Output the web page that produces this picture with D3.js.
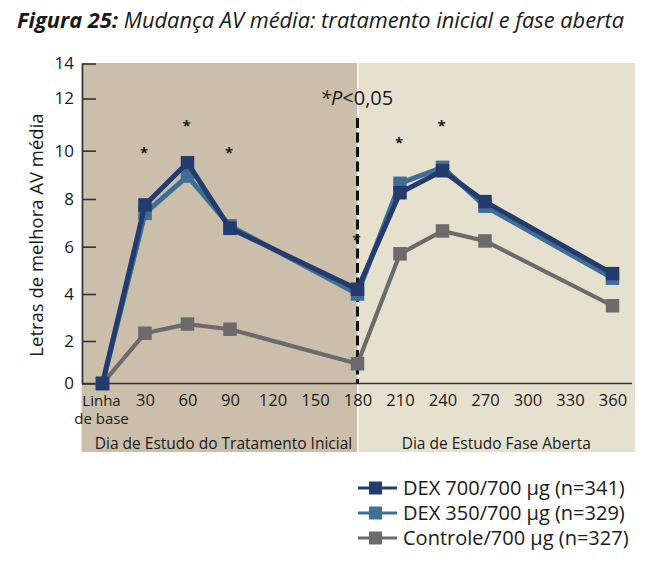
<!DOCTYPE html>
<html>
<head>
<meta charset="utf-8">
<script src="https://cdn.jsdelivr.net/npm/d3@7"></script>
<style>
  html, body { margin: 0; padding: 0; background: #ffffff; }
  svg { display: block; }
  text { font-family: "Open Sans", "Liberation Sans", sans-serif; fill: #1a1a1a; }
</style>
</head>
<body>
<svg id="chart" width="666" height="570"></svg>
<script>
// ---------- data ----------
const days = [0, 30, 60, 90, 180, 210, 240, 270, 360];
const dex700 = [0, 7.75, 9.5, 6.77, 4.2, 8.26, 9.17, 7.89, 4.86];
const dex350 = [0, 7.4, 8.95, 6.87, 4.0, 8.65, 9.31, 7.7, 4.67];
const controle = [0, 2.33, 2.72, 2.5, 0.93, 5.7, 6.66, 6.24, 3.5];
const seriesNames = ["DEX 700/700 µg (n=341)", "DEX 350/700 µg (n=329)", "Controle/700 µg (n=327)"];
const xTicks = [30, 60, 90, 120, 150, 180, 210, 240, 270, 300, 330, 360];
const baselineLabel = ["Linha", "de base"];
const yTicks = [0, 2, 4, 6, 8, 10, 12, 14];
const starDays = [30, 60, 90, 180, 210, 240];
const starValues = [10.05, 11.1, 10.05, 6.45, 10.45, 11.1];
const phaseLabels = ["Dia de Estudo do Tratamento Inicial", "Dia de Estudo Fase Aberta"];
const phaseSplit = 180;

const colors = ["#243b6d", "#3f6e96", "#6b6b6b"];

// ---------- layout ----------
const svg = d3.select("#chart");
const plotLeft = 81.5, plotRight = 635, plotTop = 63, plotBottom = 452;

const x = d3.scaleLinear().domain([0, 360]).range([102.5, 612.5]);
// axis spacing of the original figure is not perfectly uniform
const y = d3.scaleLinear()
  .domain(yTicks)
  .range([383.5, 341, 294, 246.7, 199, 150.7, 98.5, 63.5]);

// backgrounds
svg.append("rect")
  .attr("x", plotLeft).attr("y", plotTop)
  .attr("width", x(phaseSplit) - plotLeft).attr("height", plotBottom - plotTop)
  .attr("fill", "#cbbfab");
svg.append("rect")
  .attr("x", x(phaseSplit)).attr("y", plotTop)
  .attr("width", plotRight - x(phaseSplit)).attr("height", plotBottom - plotTop)
  .attr("fill", "#e6e1cf");
svg.append("line")
  .attr("x1", x(phaseSplit) + 0.5).attr("x2", x(phaseSplit) + 0.5)
  .attr("y1", plotTop).attr("y2", plotBottom)
  .attr("stroke", "#ffffff").attr("stroke-width", 1.2);

// title
const title = svg.append("text")
  .attr("x", 17).attr("y", 28)
  .style("font-size", "21.8px").style("font-style", "italic");
title.append("tspan").style("font-weight", "bold").text("Figura 25:");
title.append("tspan").text(" Mudança AV média: tratamento inicial e fase aberta");

// y axis
const yAxis = d3.axisLeft(y).tickValues(yTicks).tickSizeInner(-14).tickSizeOuter(0).tickPadding(8);
const gy = svg.append("g").attr("transform", "translate(82,0)").call(yAxis);
gy.selectAll("path, line").attr("stroke", "#333").attr("stroke-width", 1.6);
gy.selectAll("text").style("font-size", "17px").attr("fill", "#1a1a1a")
  .style("font-family", "'Open Sans', sans-serif");

// x axis
const xAxis = d3.axisBottom(x).tickValues(xTicks).tickSize(0).tickPadding(11);
const gx = svg.append("g").attr("transform", `translate(0,${y(0)})`).call(xAxis);
gx.select("path").attr("d", `M82,0H632`).attr("stroke", "#333").attr("stroke-width", 1.6);
gx.selectAll("text").style("font-size", "16.5px").attr("fill", "#1a1a1a")
  .style("font-family", "'Open Sans', sans-serif");
baselineLabel.forEach((t, i) => {
  gx.append("text").attr("text-anchor", "middle")
    .attr("x", x(0) - 1).attr("y", 22 + i * 18.5)
    .style("font-size", "15px").attr("fill", "#1a1a1a").text(t);
});

// phase labels
svg.append("text").attr("x", (plotLeft + x(phaseSplit)) / 2 + 4).attr("y", 449)
  .attr("text-anchor", "middle").style("font-size", "15.5px").text(phaseLabels[0]);
svg.append("text").attr("x", (x(phaseSplit) + plotRight) / 2).attr("y", 449)
  .attr("text-anchor", "middle").style("font-size", "15.5px").text(phaseLabels[1]);

// y axis title
svg.append("text")
  .attr("transform", "translate(43,235) rotate(-90)")
  .attr("text-anchor", "middle").style("font-size", "18.5px")
  .text("Letras de melhora AV média");

// dashed separator
svg.append("line")
  .attr("x1", x(phaseSplit)).attr("x2", x(phaseSplit))
  .attr("y1", 118).attr("y2", y(0))
  .attr("stroke", "#111").attr("stroke-width", 3)
  .attr("stroke-dasharray", "10,4.5");

// P value
const pt = svg.append("text").attr("x", 320).attr("y", 105).style("font-size", "20px");
pt.append("tspan").style("font-style", "italic").text("*P");
pt.append("tspan").text("<0,05");

// series
const allSeries = [
  { name: seriesNames[2], values: controle, color: colors[2], width: 4.2 },
  { name: seriesNames[1], values: dex350, color: colors[1], width: 5 },
  { name: seriesNames[0], values: dex700, color: colors[0], width: 5 }
];
const line = d3.line().x((d, i) => x(days[i])).y(d => y(d));
const ms = 13.5;
allSeries.forEach(s => {
  svg.append("path").datum(s.values).attr("d", line)
    .attr("fill", "none").attr("stroke", s.color).attr("stroke-width", s.width)
    .attr("stroke-linejoin", "miter");
  svg.selectAll(null).data(s.values).enter().append("rect")
    .attr("x", (d, i) => x(days[i]) - ms / 2)
    .attr("y", d => y(d) - ms / 2)
    .attr("width", ms).attr("height", ms)
    .attr("fill", s.color);
});

// significance stars
svg.selectAll(null).data(starDays).enter().append("text")
  .attr("x", d => x(d) - 1)
  .attr("y", (d, i) => y(starValues[i]) + 9)
  .attr("text-anchor", "middle")
  .style("font-size", "15px").style("font-weight", "bold")
  .text("*");

// legend
const legendRows = [
  { name: seriesNames[0], color: colors[0] },
  { name: seriesNames[1], color: colors[1] },
  { name: seriesNames[2], color: colors[2] }
];
const lg = svg.append("g");
legendRows.forEach((r, i) => {
  const cy = 488 + i * 25;
  lg.append("line").attr("x1", 358).attr("x2", 397).attr("y1", cy).attr("y2", cy)
    .attr("stroke", r.color).attr("stroke-width", 3);
  lg.append("rect").attr("x", 369).attr("y", cy - 6.5).attr("width", 13).attr("height", 13)
    .attr("fill", r.color);
  lg.append("text").attr("x", 403).attr("y", cy + 7).style("font-size", "20px").text(r.name);
});
</script>
</body>
</html>
